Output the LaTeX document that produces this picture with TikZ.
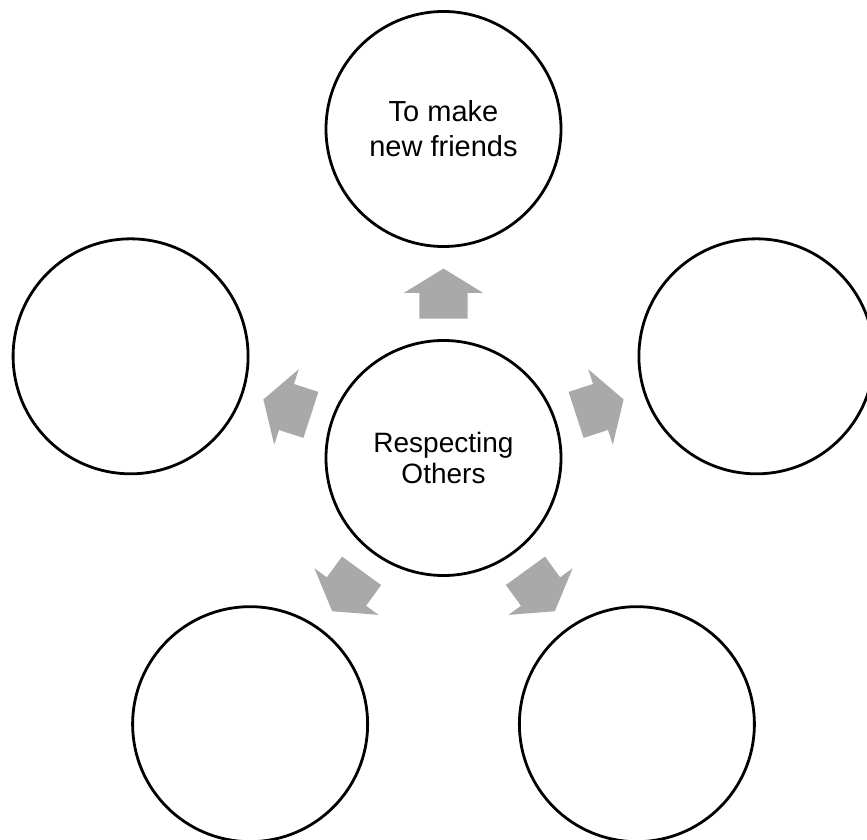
\documentclass[tikz,border=0pt]{standalone}
\usepackage{fontspec}
\setmainfont{Liberation Sans}
\usetikzlibrary{shapes.arrows}
\definecolor{flowgray}{RGB}{169,169,169}

\begin{document}
\begin{tikzpicture} [
  x=1pt, y=1pt,
  bubble/.style={draw,circle,line width=2.8pt,minimum size=235pt,inner sep=0,
    align=center,font=\fontsize{29}{35}\selectfont},
  hubstyle/.style={bubble,font=\fontsize{28}{31}\selectfont},
  flow/.style={single arrow,fill=flowgray,draw=none,inner xsep=0,inner ysep=24pt,
    minimum height=50pt,minimum width=79pt,
    single arrow head extend=15.5pt,single arrow tip angle=117}
  ]
  \useasboundingbox (0,0) rectangle (867,839);
  \node (hub) [hubstyle] at (443.5,381) {Respecting\\Others};
  \node (friends) [bubble] at ([shift={(90:329)}]hub) {To make\\new friends};
  \node (left) [bubble] at ([shift={(162:329)}]hub) {};
  \node (bleft) [bubble] at ([shift={(234:329)}]hub) {};
  \node (bright) [bubble] at ([shift={(306:329)}]hub) {};
  \node (right) [bubble] at ([shift={(18:329)}]hub) {};
  \foreach \a/\n in {90/a1,162/a2,234/a3,306/a4,18/a5}
    \node (\n) [flow,rotate=\a] at ([shift={(\a:157)}]hub) {};
\end{tikzpicture}
\end{document}
